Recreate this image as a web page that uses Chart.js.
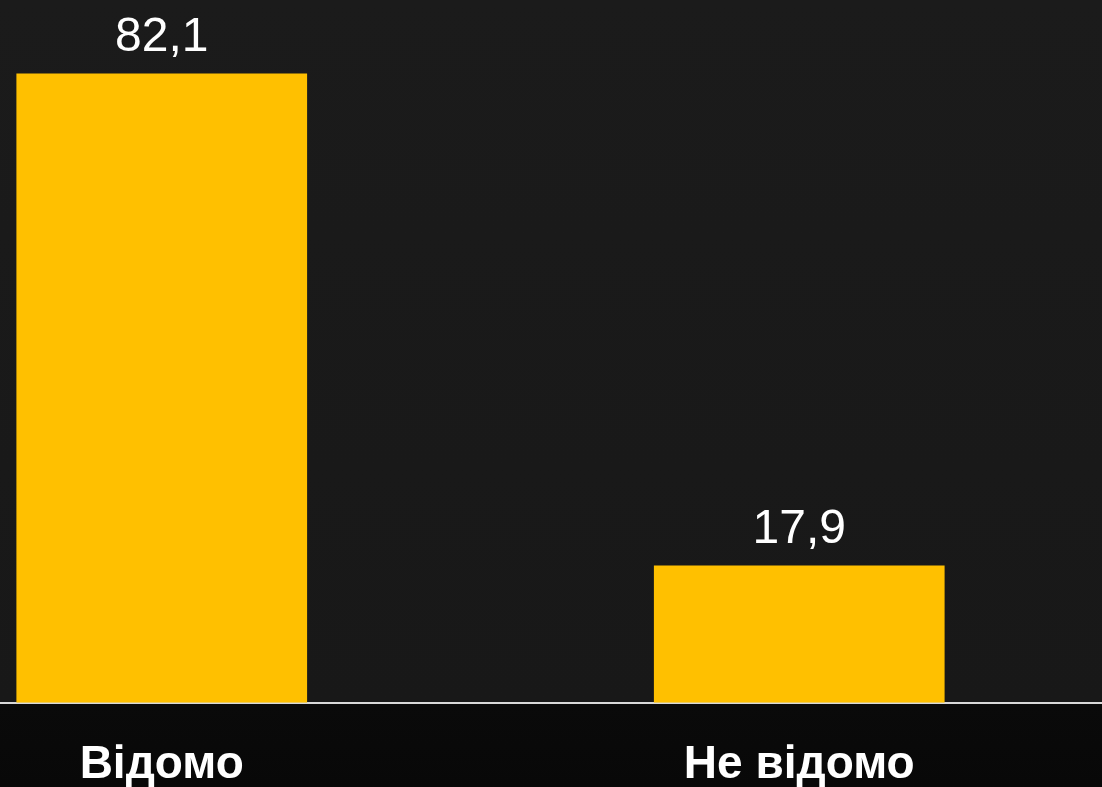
<!DOCTYPE html>
<html>
<head>
<meta charset="utf-8">
<script src="https://cdn.jsdelivr.net/npm/chart.js@4.4.1/dist/chart.umd.min.js"></script>
<style>
  html, body { margin: 0; padding: 0; width: 1102px; height: 787px; overflow: hidden; }
  body { background: linear-gradient(to bottom, #1b1b1b 0px, #181818 703px, #0a0a0a 704px, #080808 787px); position: relative; }
  #wrap { position: absolute; left: -157px; top: 0; width: 1275px; height: 828px; }
</style>
</head>
<body>
<div id="wrap"><canvas id="bar-chart"></canvas></div>
<script>
const categories = ['Відомо', 'Не відомо'];
const values = [82.1, 17.9];

const barChart = document.getElementById('bar-chart');
const font = 'Arial, "Liberation Sans", sans-serif';

// value labels above bars, decimal comma
const valueLabels = {
  id: 'valueLabels',
  afterDatasetsDraw(chart) {
    const ctx = chart.ctx;
    const meta = chart.getDatasetMeta(0);
    ctx.save();
    ctx.fillStyle = '#ffffff';
    ctx.font = '48px ' + font;
    ctx.textAlign = 'center';
    ctx.textBaseline = 'alphabetic';
    meta.data.forEach((bar, i) => {
      const txt = values[i].toFixed(1).replace('.', ',');
      ctx.fillText(txt, bar.x, bar.y - 23);
    });
    ctx.restore();
  }
};

new Chart(barChart, {
  type: 'bar',
  data: {
    labels: categories,
    datasets: [{
      data: values,
      backgroundColor: '#FFC000',
      borderWidth: 0,
      categoryPercentage: 1,
      barPercentage: 0.456
    }]
  },
  options: {
    responsive: true,
    maintainAspectRatio: false,
    animation: false,
    layout: { padding: { top: 13, bottom: 0, left: 0, right: 0 } },
    plugins: {
      legend: { display: false },
      tooltip: { enabled: false }
    },
    scales: {
      x: {
        grid: { display: false, drawTicks: false },
        border: { display: true, color: '#d9d9d9', width: 2 },
        ticks: {
          color: '#ffffff',
          padding: 35,
          font: { family: font, size: 46, weight: 'bold', lineHeight: 1.2 }
        }
      },
      y: {
        display: false,
        min: 0,
        max: 90
      }
    }
  },
  plugins: [valueLabels]
});
</script>
</body>
</html>
